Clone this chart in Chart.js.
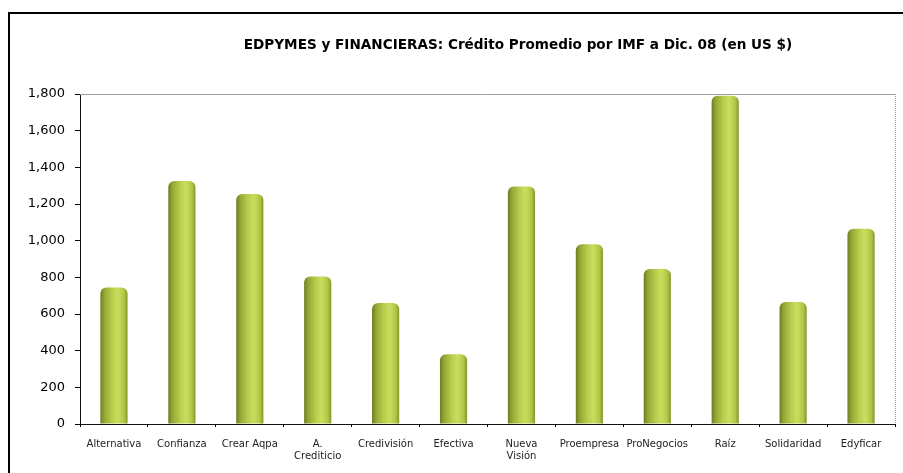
<!DOCTYPE html>
<html>
<head>
<meta charset="utf-8">
<script src="https://cdn.jsdelivr.net/npm/chart.js@4"></script>
<style>
  html, body { margin: 0; padding: 0; background: #fff; }
  #wrap { position: relative; width: 903px; height: 473px; overflow: hidden; }
  #frame { position: absolute; left: 8px; top: 12px; width: 1000px; height: 600px; border: 2px solid #000; box-sizing: border-box; }
  #c { position: absolute; left: 0; top: 0; }
</style>
</head>
<body>
<div id="wrap">
  <div id="frame"></div>
  <canvas id="c" width="903" height="473"></canvas>
</div>
<script>
const titleText = 'EDPYMES y FINANCIERAS: Crédito Promedio por IMF a Dic. 08 (en US $)';
const categories = ['Alternativa', 'Confianza', 'Crear Aqpa', ['A.', 'Crediticio'], 'Credivisión', 'Efectiva', ['Nueva', 'Visión'], 'Proempresa', 'ProNegocios', 'Raíz', 'Solidaridad', 'Edyficar'];
const creditoPromedio = [745, 1325, 1255, 805, 660, 380, 1295, 980, 845, 1790, 665, 1065];
const yTicks = [0, 200, 400, 600, 800, 1000, 1200, 1400, 1600, 1800];

const BAR_PCT = 0.4;

function barGradient(context) {
  const chart = context.chart;
  const xs = chart.scales && chart.scales.x;
  if (!xs || !chart.chartArea || context.dataIndex === undefined) return '#a8c040';
  const cx = xs.getPixelForValue(context.dataIndex);
  const w = (chart.chartArea.right - chart.chartArea.left) / categories.length * BAR_PCT;
  const g = chart.ctx.createLinearGradient(cx - w / 2, 0, cx + w / 2, 0);
  g.addColorStop(0, '#6d7c20');
  g.addColorStop(0.15, '#93a835');
  g.addColorStop(0.45, '#b9d04e');
  g.addColorStop(0.65, '#c9de5f');
  g.addColorStop(0.88, '#adc545');
  g.addColorStop(1, '#82952a');
  return g;
}

const framePlugin = {
  id: 'framePlugin',
  beforeDatasetsDraw(chart) {
    const { ctx, chartArea: a } = chart;
    ctx.save();
    ctx.strokeStyle = '#a0a0a0';
    ctx.lineWidth = 1;
    ctx.beginPath();
    ctx.moveTo(a.left, a.top + 0.5);
    ctx.lineTo(a.right, a.top + 0.5);
    ctx.stroke();
    ctx.setLineDash([1, 1]);
    ctx.beginPath();
    ctx.moveTo(a.right + 0.5, a.top);
    ctx.lineTo(a.right + 0.5, a.bottom);
    ctx.stroke();
    ctx.restore();
  },
  afterDraw(chart) {
    const { ctx } = chart;
    ctx.save();
    ctx.font = 'bold 13.6px "DejaVu Sans"';
    ctx.fillStyle = '#000';
    ctx.textAlign = 'center';
    ctx.textBaseline = 'middle';
    ctx.fillText(titleText, 518, 45);
    ctx.restore();
  }
};

new Chart(document.getElementById('c'), {
  type: 'bar',
  data: {
    labels: categories,
    datasets: [{
      data: creditoPromedio,
      backgroundColor: barGradient,
      borderWidth: 0,
      borderRadius: { topLeft: 6, topRight: 6, bottomLeft: 0, bottomRight: 0 },
      borderSkipped: 'bottom',
      categoryPercentage: 1,
      barPercentage: BAR_PCT
    }]
  },
  options: {
    responsive: false,
    animation: false,
    devicePixelRatio: 1,
    layout: { padding: { top: 94, right: 8, bottom: 0, left: 0 } },
    plugins: { legend: { display: false }, title: { display: false }, tooltip: { enabled: false } },
    scales: {
      x: {
        afterFit(s) { s.height = 49; },
        grid: { offset: true, drawOnChartArea: false, color: '#000', tickLength: 3, lineWidth: 1 },
        border: { display: true, color: '#111', dash: [1, 1] },
        ticks: { color: '#222', font: { family: 'DejaVu Sans', size: 10 }, padding: 11, maxRotation: 0, autoSkip: false }
      },
      y: {
        min: 0,
        max: 1800,
        afterFit(s) { s.width = 80; },
        afterBuildTicks(s) { s.ticks = yTicks.map(v => ({ value: v })); },
        grid: { drawOnChartArea: false, color: '#000', tickLength: 5, lineWidth: 1 },
        border: { display: true, color: '#111', dash: [1, 1] },
        ticks: {
          color: '#000',
          font: { family: 'DejaVu Sans', size: 13 },
          padding: 10,
          callback: v => v.toLocaleString('en-US')
        }
      }
    }
  },
  plugins: [framePlugin]
});
</script>
</body>
</html>
